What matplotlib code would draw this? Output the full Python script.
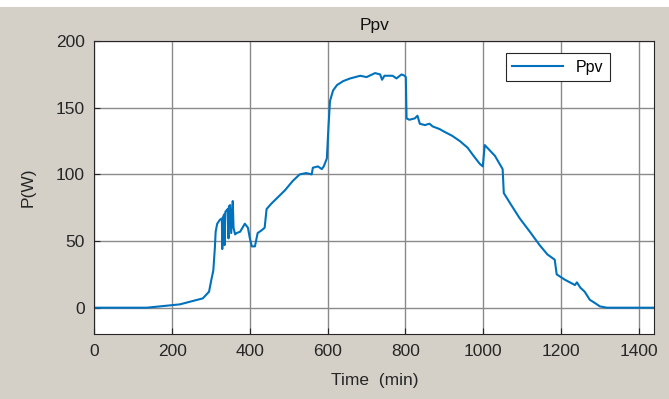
import matplotlib
matplotlib.use("Agg")
import matplotlib.pyplot as plt
from matplotlib.patches import Rectangle

time_min = [0, 135, 220, 279, 295, 301, 306, 310, 312, 316, 323, 328, 329, 331, 334, 335, 337,
            340, 343, 345, 346, 349, 352, 356, 358, 362, 366, 375, 387, 395, 400, 405, 413, 420,
            430, 438, 443, 455, 469, 490, 510, 528, 545, 559, 562, 575, 585, 590, 598, 602, 606,
            614, 624, 640, 658, 684, 700, 722, 735, 740, 746, 767, 777, 790, 798, 801, 803, 810,
            824, 831, 837, 850, 862, 870, 888, 900, 920, 940, 960, 975, 991, 999, 1004, 1017,
            1030, 1042, 1050, 1053, 1070, 1094, 1120, 1145, 1165, 1184, 1189, 1210, 1236, 1241,
            1250, 1261, 1274, 1290, 1300, 1318, 1440]
ppv_w = [0, 0, 2.5, 7, 12, 21, 28, 45, 57, 63, 66, 67, 44, 68, 70, 47, 72,
         73, 74, 52, 76, 77, 56, 80, 60, 55, 56, 57, 63, 60, 52, 46, 46, 56,
         58, 60, 74, 78, 82, 88, 95, 100, 101, 100, 105, 106, 104, 106, 112, 135, 155,
         163, 167, 170, 172, 174, 173, 176, 175, 171, 174, 174, 172, 175, 174, 173, 142, 141,
         142, 144, 138, 137, 138, 136, 134, 132, 129, 125, 120, 114, 108, 106, 122, 118,
         114, 108, 104, 86, 78, 67, 57, 47, 40, 36, 25, 21, 17, 19,
         15, 12, 6, 3, 1, 0, 0]

x_ticks = [0, 200, 400, 600, 800, 1000, 1200, 1400]
y_ticks = [0, 50, 100, 150, 200]

plt.rcParams['font.family'] = ['Liberation Sans', 'DejaVu Sans']

fig = plt.figure(figsize=(6.69, 3.99), dpi=100)
fig.patch.set_facecolor('#d4d0c8')
fig.patches.append(Rectangle((0, 1 - 7 / 399), 1, 7 / 399, transform=fig.transFigure,
                             facecolor='white', edgecolor='none', zorder=0))
ax = fig.add_axes([0.141, 0.162, 0.837, 0.735])
ax.set_facecolor('white')

ax.plot(time_min, ppv_w, color='#0072BD', linewidth=1.5, label='Ppv')

ax.set_xlim(0, 1440)
ax.set_ylim(-20, 200)
ax.set_xticks(x_ticks)
ax.set_yticks(y_ticks)
ax.grid(True, color='#8a8a8a', linewidth=1.0)
ax.set_axisbelow(True)
ax.tick_params(direction='in', labelsize=12.5, colors='#262626', length=4, pad=7)
for s in ax.spines.values():
    s.set_color('#262626')
    s.set_linewidth(0.8)

ax.set_title('Ppv', fontsize=12.5, color='#111111', pad=8)
ax.set_xlabel('Time  (min)', fontsize=12.5, color='#262626', labelpad=10)
ax.set_ylabel('P(W)', fontsize=12.5, color='#262626', labelpad=14)

leg = ax.legend(loc='upper right', fontsize=11.5, frameon=True, fancybox=False,
                edgecolor='#262626', framealpha=1, handlelength=3.2,
                bbox_to_anchor=(0.935, 0.985))
leg.get_frame().set_linewidth(0.8)

fig.savefig('out.png', dpi=100, facecolor=fig.get_facecolor())
